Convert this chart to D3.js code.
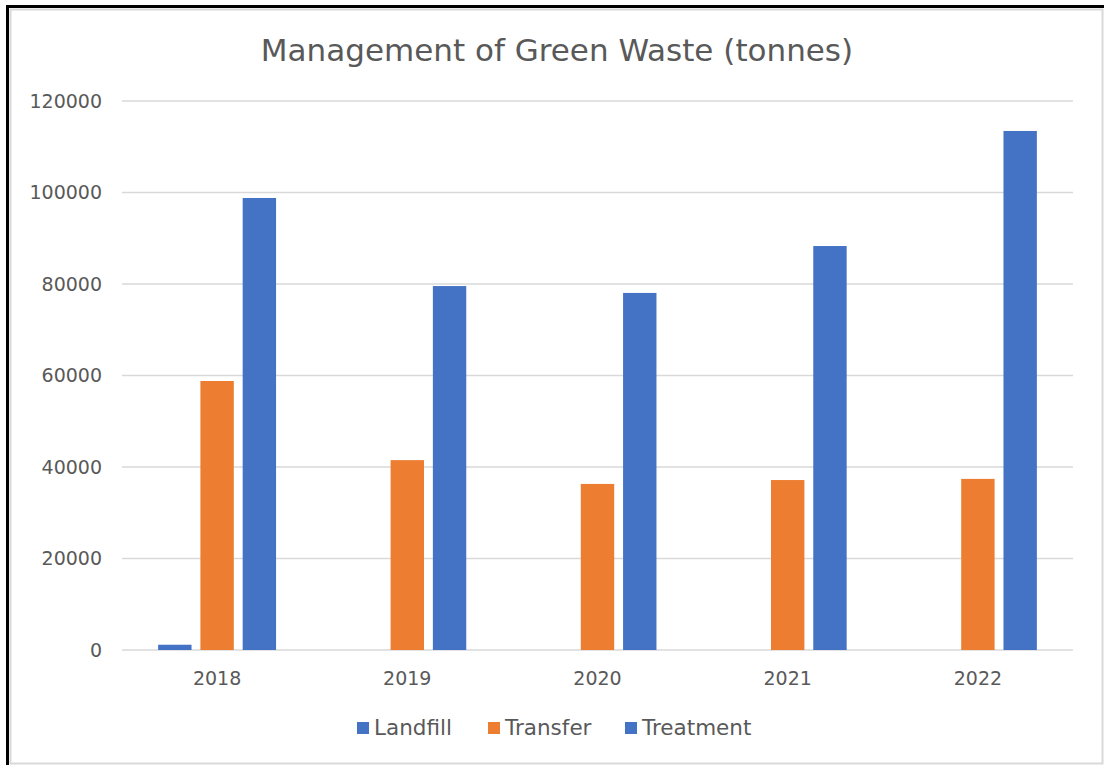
<!DOCTYPE html>
<html lang="en">

<head>
  <meta charset="UTF-8">
  <script src="https://d3js.org/d3.v7.min.js"></script>
  <title>Management of Green Waste (tonnes)</title>
  <style>
    body { margin: 0; background: #fff; }
    svg { display: block; }
  </style>
</head>

<body>
  <svg width="1104" height="765"></svg>

  <script>
    const years = ['2018', '2019', '2020', '2021', '2022']
    const seriesNames = ['Landfill', 'Transfer', 'Treatment']
    const landfill = [1150, 0, 0, 0, 0]
    const transfer = [58800, 41500, 36300, 37150, 37400]
    const treatment = [98800, 79550, 78050, 88300, 113450]
    const yTicks = [0, 20000, 40000, 60000, 80000, 100000, 120000]
    const seriesColors = ['#4472C4', '#ED7D31', '#4472C4']

    const FONT = "'DejaVu Sans', Verdana, sans-serif"
    const TEXT_COLOR = '#595959'
    const GRID_COLOR = '#d9d9d9'

    const svg = d3.select('svg')
    const width = 1104, height = 765

    // outer frame: light grey inner line, thick black on top/left
    svg.append('rect')
      .attr('x', 10.5).attr('y', 9.5)
      .attr('width', width - 12).attr('height', height - 11)
      .attr('fill', '#fff').attr('stroke', '#d9d9d9').attr('stroke-width', 2)
    svg.append('path')
      .attr('d', `M7.5,${height} V6.5 H${width}`)
      .attr('fill', 'none').attr('stroke', '#000').attr('stroke-width', 3)

    const plot = { left: 122, right: 1073, top: 101, bottom: 650 }

    const x0 = d3.scaleBand()
      .domain(years)
      .range([plot.left, plot.right])
      .paddingInner(0.38)
      .paddingOuter(0.19)

    const x1 = d3.scaleBand()
      .domain(seriesNames)
      .range([0, x0.bandwidth()])
      .paddingInner(0.21)

    const y = d3.scaleLinear()
      .domain([0, 120000])
      .range([plot.bottom, plot.top])

    const rows = years.map((year, i) => ({
      year,
      values: [landfill[i], transfer[i], treatment[i]]
    }))

    // gridlines
    svg.append('g')
      .selectAll('line')
      .data(yTicks)
      .join('line')
      .attr('x1', plot.left).attr('x2', plot.right)
      .attr('y1', d => y(d)).attr('y2', d => y(d))
      .attr('stroke', GRID_COLOR).attr('stroke-width', 1.5)

    // y labels
    svg.append('g')
      .selectAll('text')
      .data(yTicks)
      .join('text')
      .attr('x', 102)
      .attr('y', d => y(d))
      .attr('dy', '0.36em')
      .attr('text-anchor', 'end')
      .attr('font-family', FONT).attr('font-size', 19)
      .attr('fill', TEXT_COLOR)
      .text(d => d)

    // x labels
    svg.append('g')
      .selectAll('text')
      .data(years)
      .join('text')
      .attr('x', d => x0(d) + x0.bandwidth() / 2)
      .attr('y', 685)
      .attr('text-anchor', 'middle')
      .attr('font-family', FONT).attr('font-size', 19)
      .attr('fill', TEXT_COLOR)
      .text(d => d)

    // bars
    const groups = svg.append('g')
      .selectAll('g')
      .data(rows)
      .join('g')
      .attr('transform', d => `translate(${x0(d.year)},0)`)

    groups.selectAll('rect')
      .data(d => d.values.map((v, i) => ({ name: seriesNames[i], value: v, color: seriesColors[i] })))
      .join('rect')
      .filter(d => d.value > 0)
      .attr('x', d => x1(d.name))
      .attr('y', d => y(d.value))
      .attr('width', x1.bandwidth())
      .attr('height', d => y(0) - y(d.value))
      .attr('fill', d => d.color)

    // title
    svg.append('text')
      .attr('x', 557)
      .attr('y', 61)
      .attr('text-anchor', 'middle')
      .attr('font-family', FONT).attr('font-size', 31)
      .attr('fill', TEXT_COLOR)
      .text('Management of Green Waste (tonnes)')

    // legend
    const legendX = [357, 488, 625]
    const legend = svg.append('g')
      .selectAll('g')
      .data(seriesNames)
      .join('g')
      .attr('transform', (d, i) => `translate(${legendX[i]},722)`)
    legend.append('rect')
      .attr('width', 12).attr('height', 12)
      .attr('fill', (d, i) => seriesColors[i])
    legend.append('text')
      .attr('x', 17).attr('y', 13)
      .attr('font-family', FONT).attr('font-size', 21.5)
      .attr('fill', TEXT_COLOR)
      .text(d => d)
  </script>
</body>

</html>
